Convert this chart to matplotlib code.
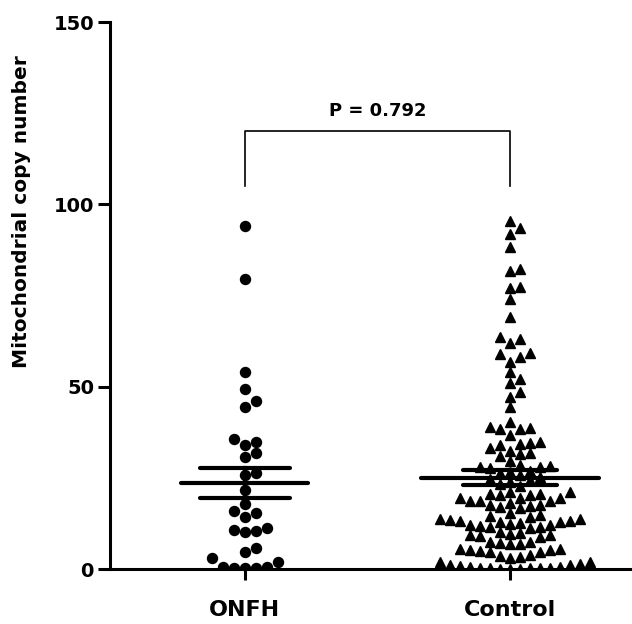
import numpy as np
import matplotlib
matplotlib.use('Agg')
import matplotlib.pyplot as plt

plt.rcParams['font.family'] = ['DejaVu Sans']
plt.rcParams['font.weight'] = 'bold'

# data
groups = ['ONFH', 'Control']
onfh_values = [94.1, 79.4, 54.1, 49.3, 46.2, 44.3, 35.6, 34.9, 34.0, 31.7, 30.6,
               26.2, 25.8, 21.7, 17.8, 16.0, 15.3, 14.2, 11.2, 10.7, 10.5, 10.2,
               5.9, 4.7, 2.9, 2.0, 0.6, 0.5, 0.4, 0.3, 0.3]
control_values = [95.5, 93.5, 91.8, 88.4, 82.3, 81.8, 77.4, 77.0, 74.0, 69.2,
                  63.5, 63.0, 61.9, 59.3, 59.0, 58.2, 56.8, 54.1, 52.0, 50.9, 48.6, 47.2, 44.3,
                  40.2, 39.0, 38.8, 38.5, 38.5, 36.7,
                  34.9, 34.5, 34.3, 34.0, 33.1, 32.4, 31.7, 31.5, 31.0, 29.7,
                  28.5, 28.2, 28.1, 27.9, 27.6,
                  27.0, 26.6, 26.2, 25.8, 25.3, 24.8, 24.3, 23.8, 23.2, 22.7,
                  21.2, 21.0, 20.6,
                  20.6, 20.3, 20.3, 19.4, 19.4, 19.4, 18.7, 18.7, 18.7, 18.2, 17.5, 17.5, 17.3, 16.9, 16.6,
                  15.3, 14.8, 14.5, 14.2, 13.6, 13.6, 13.4, 13.2, 13.2, 13.0,
                  12.8, 12.6, 12.4, 12.2, 12.0, 11.8, 11.6, 11.4, 11.2,
                  10.2, 9.9, 9.6, 9.4, 9.2, 9.0, 8.8,
                  7.5, 7.5, 7.2, 6.8, 6.8, 5.5, 5.4, 5.1, 5.1, 4.9, 4.6, 4.6,
                  3.8, 3.6, 3.2, 2.9,
                  2.0, 1.8, 1.5, 1.2, 1.0, 0.8, 0.6, 0.5, 0.4, 0.3, 0.3, 0.2, 0.2, 0.1, 0.1, 0.0]
p_label = 'P = 0.792'
bracket_top = 120
bracket_bottom = 105
y_ticks = [0, 50, 100, 150]


def swarm_offsets(values, ax, diameter, step):
    # simple beeswarm: nearest free slot to the centre, in pixel space
    sx = ax.transData.transform((1, 0))[0] - ax.transData.transform((0, 0))[0]
    sy = ax.transData.transform((0, 1))[1] - ax.transData.transform((0, 0))[1]
    order = np.argsort(values)
    placed = []
    offsets = np.zeros(len(values))
    for i in order:
        y = values[i] * sy
        k = 0
        while True:
            cands = [0] if k == 0 else [k * step, -k * step]
            ok = None
            for c in cands:
                if all((c - px) ** 2 + (y - py) ** 2 >= diameter ** 2 for px, py in placed):
                    ok = c
                    break
            if ok is not None:
                break
            k += 1
        placed.append((ok, y))
        offsets[i] = ok / sx
    return offsets


fig = plt.figure(figsize=(6.32, 6.24), dpi=100)
ax = fig.add_axes([0.174, 0.0881, 0.826, 0.8766])
ax.set_xlim(-0.509, 1.461)
ax.set_ylim(0, 150)

# marker, size (pt), swarm diameter (px), swarm step (px)
styles = [('o', 7.2, 10.5, 11), ('^', 7.8, 9.5, 10)]
mean_half = [0.24, 0.335]
sem_half = [0.17, 0.177]

for i, vals in enumerate([onfh_values, control_values]):
    vals = np.array(vals)
    marker, ms, dia, step = styles[i]
    xo = swarm_offsets(vals, ax, dia, step)
    ax.plot(i + xo, vals, linestyle='none', marker=marker, markersize=ms,
            color='black', zorder=3)
    m = vals.mean()
    sem = vals.std(ddof=1) / np.sqrt(len(vals))
    ax.plot([i - mean_half[i], i + mean_half[i]], [m, m], color='black', lw=3, zorder=4,
            solid_capstyle='round')
    for yv in (m - sem, m + sem):
        ax.plot([i - sem_half[i], i + sem_half[i]], [yv, yv], color='black', lw=3, zorder=4,
                solid_capstyle='round')
    ax.plot([i, i], [m - sem, m + sem], color='black', lw=3, zorder=4)

# significance bracket
ax.plot([0, 0, 1, 1], [bracket_bottom, bracket_top, bracket_top, bracket_bottom],
        color='black', lw=1.2, clip_on=False)
ax.text(0.5, bracket_top + 5.5, p_label, ha='center', va='center', fontsize=13,
        fontweight='bold')

ax.set_xticks([0, 1])
ax.set_xticklabels(groups, fontsize=16, fontweight='bold')
ax.set_yticks(y_ticks)
ax.set_yticklabels([str(t) for t in y_ticks], fontsize=14, fontweight='bold')
ax.set_ylabel('Mitochondrial copy number', fontsize=14.5, fontweight='bold')
ax.yaxis.set_label_coords(-0.152, 0.653)

for s in ['top', 'right']:
    ax.spines[s].set_visible(False)
for s in ['left', 'bottom']:
    ax.spines[s].set_linewidth(2.2)
ax.tick_params(axis='y', length=8.5, width=2.2, pad=3)
ax.tick_params(axis='x', length=8, width=2.2, pad=14)

fig.savefig('out.png', dpi=100)
